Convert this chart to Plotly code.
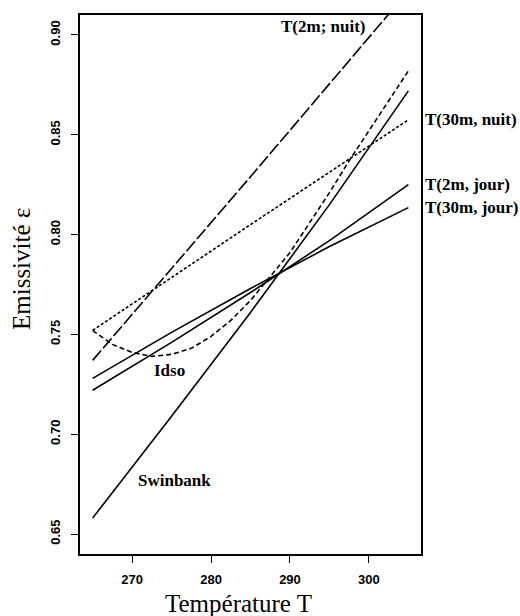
import plotly.graph_objects as go

# Temperature grids (K)
T_lin = [265, 275, 285, 295, 305]
T_idso = [265, 267.5, 270, 272.5, 275, 277.5, 280, 282.5, 285, 287.5,
          290, 292.5, 295, 297.5, 300, 302.5, 305]
T_nuit = [265, 285, 305]

# Emissivity values
swinbank = [0.658, 0.709, 0.761, 0.815, 0.872]
idso = [0.752, 0.745, 0.741, 0.739, 0.740, 0.743, 0.749, 0.757, 0.767, 0.779,
        0.791, 0.806, 0.821, 0.837, 0.852, 0.867, 0.882]
t2m_nuit = [0.737, 0.829, 0.922]
t30m_nuit = [0.752, 0.805, 0.8575]
t2m_jour = [0.722, 0.746, 0.771, 0.797, 0.825]
t30m_jour = [0.728, 0.751, 0.773, 0.794, 0.8135]

x_ticks = [270, 280, 290, 300]
y_ticks = [0.65, 0.70, 0.75, 0.80, 0.85, 0.90]
y_ticklabels = ["0.65", "0.70", "0.75", "0.80", "0.85", "0.90"]

LW = 1.6
fig = go.Figure()
fig.add_trace(go.Scatter(x=T_lin, y=swinbank, mode="lines",
                         line=dict(color="black", width=LW)))
fig.add_trace(go.Scatter(x=T_idso, y=idso, mode="lines",
                         line=dict(color="black", width=LW, dash="5px,3px")))
fig.add_trace(go.Scatter(x=T_nuit, y=t2m_nuit, mode="lines",
                         line=dict(color="black", width=LW, dash="13px,3px")))
fig.add_trace(go.Scatter(x=T_nuit, y=t30m_nuit, mode="lines",
                         line=dict(color="black", width=LW, dash="3px,2px")))
fig.add_trace(go.Scatter(x=T_lin, y=t2m_jour, mode="lines",
                         line=dict(color="black", width=LW)))
fig.add_trace(go.Scatter(x=T_lin, y=t30m_jour, mode="lines",
                         line=dict(color="black", width=LW)))

afont = dict(family="Liberation Serif", size=17, color="black")
ann = [
    dict(x=294.2, y=0.9040, xref="x", yref="y", text="<b>T(2m; nuit)</b>",
         showarrow=False, font=afont, xanchor="center", yanchor="middle"),
    dict(x=1.006, y=t30m_nuit[-1], xref="paper", yref="y", text="<b>T(30m, nuit)</b>",
         showarrow=False, font=afont, xanchor="left", yanchor="middle"),
    dict(x=1.006, y=t2m_jour[-1], xref="paper", yref="y", text="<b>T(2m, jour)</b>",
         showarrow=False, font=afont, xanchor="left", yanchor="middle"),
    dict(x=1.006, y=t30m_jour[-1], xref="paper", yref="y", text="<b>T(30m, jour)</b>",
         showarrow=False, font=afont, xanchor="left", yanchor="middle"),
    dict(x=274.7, y=0.7317, xref="x", yref="y", text="<b>Idso</b>",
         showarrow=False, font=afont, xanchor="center", yanchor="middle"),
    dict(x=275.4, y=0.677, xref="x", yref="y", text="<b>Swinbank</b>",
         showarrow=False, font=afont, xanchor="center", yanchor="middle"),
    # axis titles
    dict(x=238, y=603, xref="paper", yref="paper", text="Température T",
         showarrow=False, font=dict(family="Liberation Serif", size=25, color="black"),
         xanchor="center", yanchor="middle"),
    dict(x=21, y=269, xref="paper", yref="paper", text="Emissivité ε",
         showarrow=False, font=dict(family="Liberation Serif", size=25, color="black"),
         xanchor="center", yanchor="middle", textangle=-90),
]
# convert pixel positions of axis titles to paper coordinates
L, R, T, B = 80, 99, 15, 62
W, H = 520, 616
pw, ph = W - L - R, H - T - B
for a in ann[-2:]:
    a["x"] = (a["x"] - L) / pw
    a["y"] = 1 - (a["y"] - T) / ph

fig.update_layout(
    width=W, height=H,
    margin=dict(l=L, r=R, t=T, b=B, pad=0),
    paper_bgcolor="white", plot_bgcolor="white",
    showlegend=False,
    annotations=ann,
    xaxis=dict(range=[263.4, 306.6], tickvals=x_ticks,
               ticks="outside", ticklen=7, tickwidth=1.3, tickcolor="black",
               showline=True, linecolor="black", linewidth=1.6, mirror=True,
               showgrid=False, zeroline=False, ticklabelstandoff=6,
               tickfont=dict(family="Liberation Sans", size=13, color="black", weight="bold")),
    yaxis=dict(range=[0.64, 0.91], tickvals=y_ticks, ticktext=y_ticklabels,
               tickangle=-90,
               ticks="outside", ticklen=7, tickwidth=1.3, tickcolor="black",
               showline=True, linecolor="black", linewidth=1.6, mirror=True,
               showgrid=False, zeroline=False, ticklabelstandoff=6,
               tickfont=dict(family="Liberation Sans", size=13, color="black", weight="bold")),
)

fig.write_html("out.html")
